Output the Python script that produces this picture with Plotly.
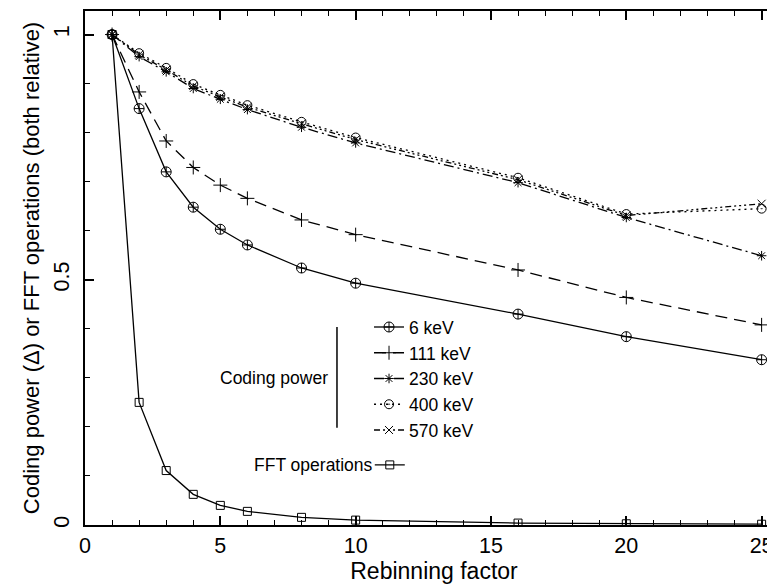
import plotly.graph_objects as go

rebin = [1, 2, 3, 4, 5, 6, 8, 10, 16, 20, 25]
kev6 = [1.0, 0.849, 0.72, 0.648, 0.603, 0.571, 0.524, 0.493, 0.43, 0.384, 0.337]
kev111 = [1.0, 0.883, 0.783, 0.729, 0.693, 0.666, 0.622, 0.592, 0.52, 0.464, 0.408]
kev230 = [1.0, 0.955, 0.924, 0.89, 0.868, 0.847, 0.811, 0.779, 0.698, 0.627, 0.549]
kev400 = [1.0, 0.962, 0.932, 0.899, 0.877, 0.856, 0.822, 0.79, 0.708, 0.634, 0.645]
kev570 = [1.0, 0.959, 0.928, 0.895, 0.873, 0.852, 0.818, 0.786, 0.704, 0.631, 0.655]
fft = [1.0, 0.25, 0.111, 0.0625, 0.04, 0.0278, 0.0156, 0.01, 0.0039, 0.0025, 0.0016]

FONT = "Liberation Sans, Arial, Helvetica, sans-serif"

series = [
    ("6 keV", kev6, "solid", "circle-cross-open", 10),
    ("111 keV", kev111, "12px,7px", "cross-thin-open", 10),
    ("230 keV", kev230, "10px,4px,2px,4px", "asterisk-open", 8),
    ("400 keV", kev400, "2px,4px", "circle-open-dot", 9),
    ("570 keV", kev570, "6px,3px,2px,3px,2px,3px,2px,3px", "x-thin-open", 8),
]

fig = go.Figure()
for name, vals, dash, sym, sz in series:
    fig.add_trace(go.Scatter(
        x=rebin, y=vals, name=name, mode="lines+markers",
        line=dict(color="black", width=1.3, dash=dash),
        marker=dict(symbol=sym, size=sz, color="black", line=dict(width=1, color="black")),
        legend="legend",
    ))
fig.add_trace(go.Scatter(
    x=rebin, y=fft, name=" ", mode="lines+markers",
    line=dict(color="black", width=1.3),
    marker=dict(symbol="square-open", size=8, color="black", line=dict(width=1, color="black")),
    legend="legend2",
))

axis_common = dict(
    showgrid=False, zeroline=False, showline=True, linecolor="black", linewidth=1.5,
    mirror="allticks", ticks="inside", ticklen=9, tickwidth=1.5, tickcolor="black",
    tickfont=dict(family=FONT, size=21.5, color="black"), automargin=False,
)
fig.update_xaxes(range=[0, 25.79], tickvals=[0, 5, 10, 15, 20, 25],
                 minor=dict(dtick=1, ticks="inside", ticklen=5, tickcolor="black", tickwidth=1.2),
                 title=dict(text="Rebinning factor", font=dict(family=FONT, size=23, color="black"), standoff=0),
                 **axis_common)
fig.update_yaxes(range=[0, 1.048], tickvals=[0, 0.5, 1], ticktext=["0", "0.5", "1"], tickangle=-90,
                 ticklabelstandoff=6,
                 minor=dict(dtick=0.1, ticks="inside", ticklen=5, tickcolor="black", tickwidth=1.2),
                 title=dict(text="Coding power (\u0394) or FFT operations (both relative)",
                            font=dict(family=FONT, size=22, color="black"), standoff=4),
                 **axis_common)

fig.update_layout(
    width=775, height=584, autosize=False,
    margin=dict(l=77, r=0, t=3, b=67),
    paper_bgcolor="white", plot_bgcolor="white",
    showlegend=True,
    legend=dict(x=0.4069, y=0.42, xanchor="left", yanchor="top", bgcolor="rgba(0,0,0,0)",
                font=dict(family=FONT, size=17.5, color="black"), tracegroupgap=0, itemwidth=30),
    legend2=dict(x=0.408, y=0.1167, xanchor="left", yanchor="middle", bgcolor="rgba(0,0,0,0)",
                 font=dict(family=FONT, size=17.5, color="black"), itemwidth=30),
    annotations=[
        dict(text="Coding power", xref="paper", yref="paper", x=0.351, y=0.286, xanchor="right",
             yanchor="middle", showarrow=False, font=dict(family=FONT, size=17.5, color="black")),
        dict(text="FFT operations", xref="paper", yref="paper", x=0.4155, y=0.1167, xanchor="right",
             yanchor="middle", showarrow=False, font=dict(family=FONT, size=17.5, color="black")),
    ],
    shapes=[dict(type="line", xref="paper", yref="paper", x0=0.361, x1=0.361, y0=0.189, y1=0.385,
                 line=dict(color="black", width=1.5))],
)
fig.write_html("out.html")
